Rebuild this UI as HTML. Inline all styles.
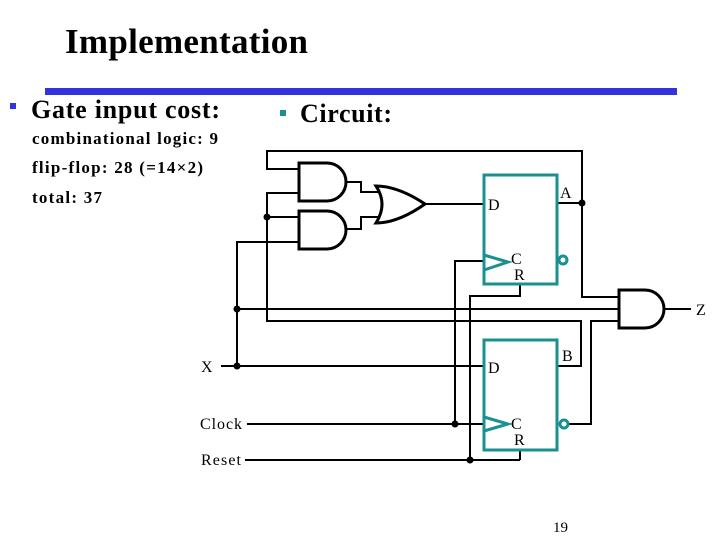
<!DOCTYPE html>
<html><head><meta charset="utf-8"><style>
body{margin:0;background:#fff;}
svg{display:block;}
text{font-family:"Liberation Serif",serif;}
</style></head><body>
<svg width="720" height="540" viewBox="0 0 720 540" xmlns="http://www.w3.org/2000/svg">
<rect width="720" height="540" fill="#fff"/>
<text x="65" y="53" font-size="35" font-weight="bold" textLength="243">Implementation</text>
<rect x="45" y="88" width="632" height="7" fill="#3333dd"/>
<rect x="10" y="103" width="6" height="6" fill="#3333dd"/>
<text x="31" y="118" font-size="26" font-weight="bold" textLength="189">Gate input cost:</text>
<rect x="280" y="110" width="6" height="6" fill="#1a9090"/>
<text x="300" y="122" font-size="26" font-weight="bold" textLength="92">Circuit:</text>
<text x="32" y="144" font-size="17" font-weight="bold" textLength="186">combinational logic: 9</text>
<text x="32" y="173" font-size="17" font-weight="bold" textLength="171">flip-flop: 28 (=14×2)</text>
<text x="32" y="203" font-size="17" font-weight="bold" textLength="70">total: 37</text>

<g stroke="#000" stroke-width="2" fill="none">
<polyline points="299,169 267,169 267,151 582,151 582,297 619,297"/>
<line x1="557" y1="203" x2="582" y2="203"/>
<polyline points="299,193 267,193 267,321 581,321 581,366 557,366"/>
<line x1="267" y1="217" x2="299" y2="217"/>
<polyline points="299,242 237,242 237,366"/>
<line x1="221" y1="366" x2="484" y2="366"/>
<line x1="237" y1="309" x2="619" y2="309"/>
<polyline points="568,424 591,424 591,321 619,321"/>
<polyline points="345,182 361,182 361,192 379,192"/>
<polyline points="345,229 361,229 361,217 379,217"/>
<line x1="425" y1="204" x2="484" y2="204"/>
<line x1="247" y1="424" x2="484" y2="424"/>
<polyline points="455,424 455,261 484,261"/>
<line x1="245" y1="460" x2="520" y2="460"/>
<line x1="520" y1="450" x2="520" y2="460"/>
<polyline points="470,460 470,296 520,296 520,284"/>
<line x1="663" y1="309" x2="691" y2="309"/>
</g>
<g stroke="#000" stroke-width="3" fill="#fff">
<path d="M299,163 H327 A19,19 0 0 1 327,201 H299 Z"/>
<path d="M299,211 H327 A19,19 0 0 1 327,249 H299 Z"/>
<path d="M376,186 Q398,186 425,204 Q398,223 376,223 Q388,204 376,186 Z"/>
<path d="M619,290 H645 A19,19 0 0 1 645,328 H619 Z"/>
</g>
<g fill="#000">
<circle cx="267" cy="217" r="3.5"/>
<circle cx="237" cy="309" r="3.5"/>
<circle cx="237" cy="366" r="3.5"/>
<circle cx="582" cy="203" r="3.5"/>
<circle cx="455" cy="424" r="3.5"/>
<circle cx="470" cy="460" r="3.5"/>
</g>
<g stroke="#1a9090" stroke-width="3" fill="none">
<rect x="484" y="175" width="73" height="109" fill="#fff"/>
<polyline points="484,255 508,262 484,270"/>
<circle cx="563" cy="260" r="4"/>
<rect x="484" y="340" width="73" height="110" fill="#fff"/>
<polyline points="484,417 508,424 484,431"/>
<circle cx="564" cy="424" r="4"/>
</g>
<g font-size="16">
<text x="488" y="210">D</text>
<text x="560" y="198">A</text>
<text x="511" y="264">C</text>
<text x="514" y="280">R</text>
<text x="488" y="373">D</text>
<text x="562" y="361">B</text>
<text x="511" y="429">C</text>
<text x="514" y="445">R</text>
<text x="201" y="372">X</text>
<text x="200" y="429" textLength="42">Clock</text>
<text x="201" y="465" textLength="40">Reset</text>
<text x="696" y="315">Z</text>
<text x="553" y="532" font-size="15">19</text>
</g>
</svg>
</body></html>
